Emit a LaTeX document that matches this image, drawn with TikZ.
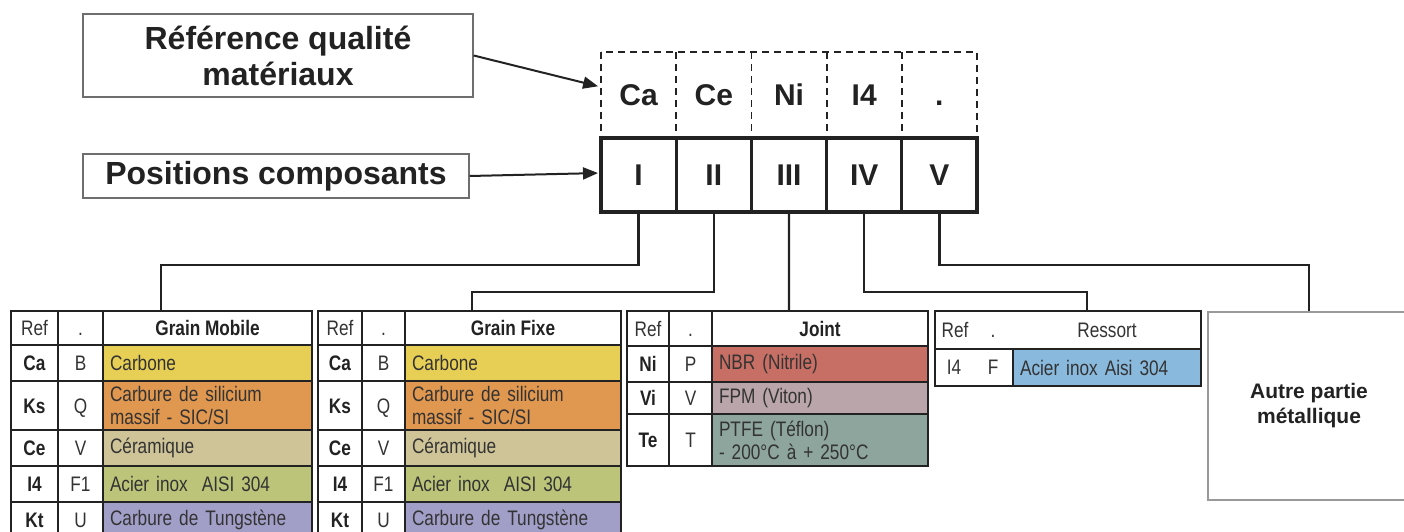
\documentclass[tikz,border=0pt]{standalone}
\usepackage{fontspec}
\setmainfont{Liberation Sans}
\newfontfamily\narrowfont[FakeStretch=0.82]{Liberation Sans}
\usetikzlibrary{arrows.meta, positioning}
\definecolor{inkgray}{RGB}{34,34,34}
\definecolor{textgray}{RGB}{51,51,51}
\definecolor{boxgray}{RGB}{110,110,110}
\definecolor{carbonyellow}{RGB}{231,207,86}
\definecolor{siliconorange}{RGB}{224,151,79}
\definecolor{ceramictan}{RGB}{207,196,152}
\definecolor{steelgreen}{RGB}{187,196,121}
\definecolor{tungstenviolet}{RGB}{161,159,200}
\definecolor{nitrilered}{RGB}{200,111,101}
\definecolor{vitonmauve}{RGB}{185,165,170}
\definecolor{teflongreen}{RGB}{141,165,156}
\definecolor{springblue}{RGB}{137,185,220}
\newcommand{\tabfont}{\narrowfont\fontsize{21}{23}\selectfont}

\tikzset{
  labelbox/.style={draw=boxgray, line width=1.2pt, align=center, inner sep=0pt, text=inkgray,
    font=\bfseries\fontsize{32}{36}\selectfont},
  codecell/.style={minimum width=75.2pt, minimum height=86pt, inner sep=0pt, outer sep=0pt,
    text height=22pt, text depth=0pt, font=\bfseries\fontsize{30}{34}\selectfont, text=inkgray},
  dashline/.style={draw=inkgray, dash pattern=on 7pt off 5pt, line width=1.8pt},
  poscell/.style={draw=inkgray, line width=3.2pt, minimum width=75.2pt, minimum height=74pt,
    inner sep=0pt, outer sep=0pt, font=\bfseries\fontsize{30}{34}\selectfont, text=inkgray},
  pointer/.style={draw=inkgray, line width=2pt, -{Triangle[length=15pt,width=12pt]}, shorten >=3pt},
  link/.style={draw=inkgray, line width=2.4pt},
  tabcell/.style={draw=inkgray, line width=1.3pt, inner sep=0pt, outer sep=0pt, anchor=north west,
    text height=15pt, text depth=0pt, font=\tabfont, text=textgray},
  refcell/.style={tabcell, font=\tabfont\bfseries, text=inkgray},
  titlecell/.style={tabcell, font=\tabfont\bfseries, text=inkgray},
  desccell/.style={tabcell, text height={}, text depth={}, text width=#1, inner xsep=7pt, align=left},
  tabtext/.style={inner sep=0pt, anchor=base, font=\tabfont, text=textgray},
  otherbox/.style={draw=black!40, line width=1.8pt, inner sep=0pt, align=center, text=inkgray,
    font=\bfseries\fontsize{21}{25}\selectfont}
}

\begin{document}
\begin{tikzpicture}[x=1pt, y=-1pt]
    \useasboundingbox (0,0) rectangle (1404,532);

    % Labels
    \node[labelbox, minimum width=390pt, minimum height=83pt] (refbox) at (278,55.5) {Référence qualité\\matériaux};
    \node[labelbox, minimum width=386pt, minimum height=44pt] (posbox) at (276,176) {Positions composants};

    % Code
    \foreach \code [count=\i] in {Ca,Ce,Ni,I4,.}
        \node[codecell] (q\i) at ({563.4+75.2*\i},95) {\code};
    \draw[dashline] (q1.north west) rectangle (q5.south east);
    \foreach \i in {1,...,4}
        \draw[dashline] (q\i.north east) -- (q\i.south east);
    \foreach \pos [count=\i] in {I,II,III,IV,V}
        \node[poscell] (p\i) at ({563.4+75.2*\i},175) {\pos};

    \draw[pointer] (refbox.east) -- ([yshift=8pt]q1.west);
    \draw[pointer] (posbox.east) -- ([yshift=2pt]p1.west);

    % Grain Mobile
    \node[tabcell, minimum width=47pt, minimum height=34pt] (gm-ref) at (11,311) {Ref};
    \node[tabcell, minimum width=45pt, minimum height=34pt, right=0pt of gm-ref] (gm-dot) {.};
    \node[titlecell, minimum width=209pt, minimum height=34pt, right=0pt of gm-dot] (gm-title) {Grain Mobile};
    \foreach \y/\h/\r/\c/\d/\col in {345/36/Ca/B/Carbone/carbonyellow,
        381/49/Ks/Q/{Carbure de silicium\\massif - SIC/SI}/siliconorange,
        430/36/Ce/V/Céramique/ceramictan,
        466/36/I4/F1/{Acier inox~~AISI 304}/steelgreen,
        502/36/Kt/U/Carbure de Tungstène/tungstenviolet}{
        \node[refcell, minimum width=47pt, minimum height=\h] (gm-\r) at (11,\y) {\r};
        \node[tabcell, minimum width=45pt, minimum height=\h, right=0pt of gm-\r] (gm-\r-c) {\c};
        \node[desccell=195pt, fill=\col, minimum height=\h, right=0pt of gm-\r-c] (gm-\r-d) {\d};
    }

    % Grain Fixe
    \node[tabcell, minimum width=44pt, minimum height=34pt] (gf-ref) at (318,311) {Ref};
    \node[tabcell, minimum width=43pt, minimum height=34pt, right=0pt of gf-ref] (gf-dot) {.};
    \node[titlecell, minimum width=216pt, minimum height=34pt, right=0pt of gf-dot] (gf-title) {Grain Fixe};
    \foreach \y/\h/\r/\c/\d/\col in {345/36/Ca/B/Carbone/carbonyellow,
        381/49/Ks/Q/{Carbure de silicium\\massif - SIC/SI}/siliconorange,
        430/36/Ce/V/Céramique/ceramictan,
        466/36/I4/F1/{Acier inox~~AISI 304}/steelgreen,
        502/36/Kt/U/Carbure de Tungstène/tungstenviolet}{
        \node[refcell, minimum width=44pt, minimum height=\h] (gf-\r) at (318,\y) {\r};
        \node[tabcell, minimum width=43pt, minimum height=\h, right=0pt of gf-\r] (gf-\r-c) {\c};
        \node[desccell=202pt, fill=\col, minimum height=\h, right=0pt of gf-\r-c] (gf-\r-d) {\d};
    }

    % Joint
    \node[tabcell, minimum width=42pt, minimum height=35pt] (jt-ref) at (627,311) {Ref};
    \node[tabcell, minimum width=43pt, minimum height=35pt, right=0pt of jt-ref] (jt-dot) {.};
    \node[titlecell, minimum width=216pt, minimum height=35pt, right=0pt of jt-dot] (jt-title) {Joint};
    \foreach \y/\h/\r/\c/\d/\col in {346/36/Ni/P/NBR (Nitrile)/nitrilered,
        382/32/Vi/V/FPM (Viton)/vitonmauve,
        414/52/Te/T/{PTFE (Téflon)\\- 200°C à + 250°C}/teflongreen}{
        \node[refcell, minimum width=42pt, minimum height=\h] (jt-\r) at (627,\y) {\r};
        \node[tabcell, minimum width=43pt, minimum height=\h, right=0pt of jt-\r] (jt-\r-c) {\c};
        \node[desccell=202pt, fill=\col, minimum height=\h, right=0pt of jt-\r-c] (jt-\r-d) {\d};
    }

    % Ressort
    \node[tabcell, minimum width=266pt, minimum height=38pt] (rs-head) at (935,311) {};
    \node[tabtext] (rs-ref) at (955,337) {Ref};
    \node[tabtext] (rs-dot) at (993,337) {.};
    \node[tabtext] (rs-title) at (1107,337) {Ressort};
    \node[tabcell, minimum width=78pt, minimum height=37pt] (rs-I4) at (935,349) {};
    \node[tabtext] (rs-I4-r) at (954,374) {I4};
    \node[tabtext] (rs-I4-c) at (993,374) {F};
    \node[desccell=174pt, fill=springblue, minimum height=37pt, right=0pt of rs-I4] (rs-I4-d) {Acier inox Aisi 304};

    % Autre
    \node[otherbox, minimum width=202pt, minimum height=188pt] (autre) at (1309,406) {Autre partie\\métallique};

    % Connectors
    \coordinate (gm-top) at (161,311);
    \coordinate (gf-top) at (472,311);
    \coordinate (jt-top) at (789,311);
    \coordinate (rs-top) at (1087,311);
    \draw[link] (p1.south) -- ++(0,53) -| (gm-top);
    \draw[link] (p2.south) -- ++(0,80) -| (gf-top);
    \draw[link] (p3.south) -- (jt-top);
    \draw[link] (p4.south) -- ++(0,80) -| (rs-top);
    \draw[link] (p5.south) -- ++(0,53) -| (autre.north);
\end{tikzpicture}
\end{document}
